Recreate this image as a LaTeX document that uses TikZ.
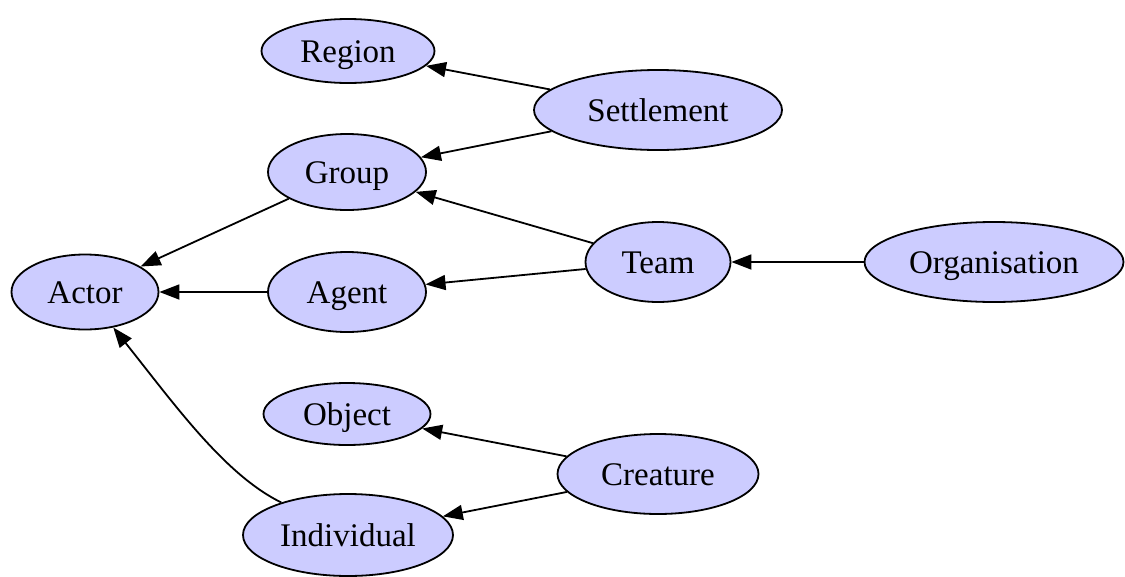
\documentclass[tikz,border=0pt]{standalone}
\usepackage{fontspec}
\setmainfont{Liberation Serif}
\usetikzlibrary{shapes.geometric,arrows.meta}
\definecolor{nodefill}{RGB}{204,204,255}
\tikzset{
  cls/.style={ellipse, draw=black, line width=1.8pt, fill=nodefill, inner sep=0pt,
    text height=22pt, text depth=0pt,
    font=\fontsize{33}{38}\selectfont},
  isa/.style={draw=black, line width=1.8pt, -{Triangle[length=20pt,width=15pt]}}
}
\begin{document}
\begin{tikzpicture}[x=1pt,y=-1pt]
\useasboundingbox (0,0) rectangle (1125,576);
\node[cls, minimum width=173pt, minimum height=64pt] (region) at (348,51) {Region};
\node[cls, minimum width=248pt, minimum height=80pt] (settlement) at (658,110) {Settlement};
\node[cls, minimum width=158pt, minimum height=76pt] (group) at (347,172) {Group};
\node[cls, minimum width=145pt, minimum height=80pt] (team) at (658,262) {Team};
\node[cls, minimum width=259pt, minimum height=80pt] (org) at (994,262) {Organisation};
\node[cls, minimum width=147pt, minimum height=75pt] (actor) at (85,292) {Actor};
\node[cls, minimum width=158pt, minimum height=80pt] (agent) at (347,292) {Agent};
\node[cls, minimum width=167pt, minimum height=62pt] (object) at (347,414) {Object};
\node[cls, minimum width=201pt, minimum height=80pt] (creature) at (658,474) {Creature};
\node[cls, minimum width=210pt, minimum height=82pt] (individual) at (348,535) {Individual};
\draw[isa] (settlement) -- (region);
\draw[isa] (settlement) -- (group);
\draw[isa] (team) -- (group);
\draw[isa] (team) -- (agent);
\draw[isa] (org) -- (team);
\draw[isa] (group) -- (actor);
\draw[isa] (agent) -- (actor);
\draw[isa] (creature) -- (object);
\draw[isa] (creature) -- (individual);
\draw[isa] (individual) .. controls (225,475) and (175,405) .. (actor);
\end{tikzpicture}
\end{document}
